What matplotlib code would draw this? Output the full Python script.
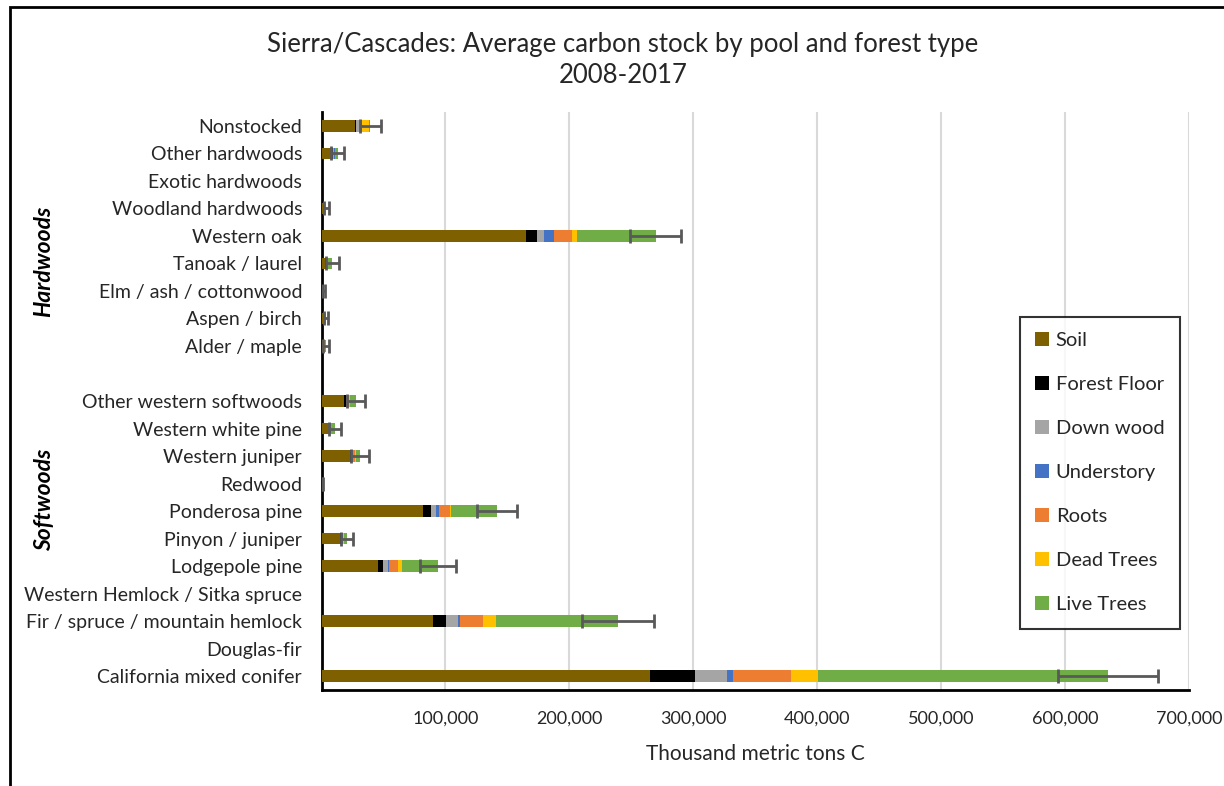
import numpy as np
import matplotlib
matplotlib.use("Agg")
import matplotlib.pyplot as plt
from matplotlib.patches import Rectangle, Patch

plt.rcParams['font.family'] = ['Lato', 'DejaVu Sans']

# categories top to bottom ('' is the gap between hardwoods and softwoods)
categories = ['Nonstocked', 'Other hardwoods', 'Exotic hardwoods', 'Woodland hardwoods',
              'Western oak', 'Tanoak / laurel', 'Elm / ash / cottonwood', 'Aspen / birch',
              'Alder / maple', '', 'Other western softwoods', 'Western white pine',
              'Western juniper', 'Redwood', 'Ponderosa pine', 'Pinyon / juniper',
              'Lodgepole pine', 'Western Hemlock / Sitka spruce',
              'Fir / spruce / mountain hemlock', 'Douglas-fir', 'California mixed conifer']

# thousand metric tons C
soil = [27400, 8600, 0, 2400, 164700, 2800, 600, 1000, 1000, 0, 18400, 6000, 23000, 300,
        81600, 14900, 45300, 0, 89600, 0, 264900]
forest_floor = [700, 800, 0, 200, 8800, 400, 200, 200, 200, 0, 1400, 600, 1300, 50,
                6700, 700, 4500, 0, 10800, 0, 36300]
down_wood = [4000, 500, 0, 100, 5700, 300, 100, 100, 100, 0, 500, 400, 500, 50,
             4000, 800, 3800, 0, 9400, 0, 25800]
understory = [300, 800, 0, 100, 8600, 300, 100, 200, 200, 0, 300, 300, 500, 20,
              2700, 800, 1100, 0, 1900, 0, 4900]
roots = [600, 600, 0, 300, 14000, 1500, 200, 400, 400, 0, 1500, 800, 1800, 100,
         8600, 500, 7200, 0, 18500, 0, 46700]
dead_trees = [5300, 300, 0, 100, 4200, 300, 50, 200, 700, 0, 800, 300, 700, 30,
              800, 200, 2800, 0, 10300, 0, 21800]
live_trees = [1200, 1400, 0, 500, 63500, 3000, 200, 1500, 1200, 0, 4700, 2500, 3200, 200,
              36900, 2400, 29500, 0, 98600, 0, 233900]
error = [8700, 5000, 0, 2000, 20600, 5400, 1000, 2000, 2500, 0, 7100, 4800, 7100, 500,
         16100, 4800, 14500, 0, 29000, 0, 40300]

pools = ['Soil', 'Forest Floor', 'Down wood', 'Understory', 'Roots', 'Dead Trees', 'Live Trees']
series = [soil, forest_floor, down_wood, understory, roots, dead_trees, live_trees]
colors = ['#7f6000', '#000000', '#a5a5a5', '#4472c4', '#ed7d31', '#ffc000', '#70ad47']

fig = plt.figure(figsize=(12.24, 7.86), dpi=100)
ax = fig.add_axes([0.2627, 0.1221, 0.7087, 0.7354])

y = np.arange(len(categories))
left = np.zeros(len(categories))
for name, vals, c in zip(pools, series, colors):
    vals = np.array(vals, dtype=float)
    ax.barh(y, vals, left=left, height=0.42, color=c, label=name, zorder=3)
    left += vals

# error bars at the end of each stacked bar
err = np.array(error, dtype=float)
mask = err > 0
ax.errorbar(left[mask], y[mask], xerr=err[mask], fmt='none', ecolor='#595959',
            elinewidth=2, capsize=5, capthick=2, zorder=4)

ax.set_ylim(len(categories) - 0.5, -0.5)
ax.set_yticks(y)
ax.set_yticklabels(categories, fontsize=14, color='#262626')
ax.tick_params(axis='y', length=0, pad=14)

ax.set_xlim(0, 700000)
ticks = np.arange(100000, 700001, 100000)
ax.set_xticks(ticks)
ax.set_xticklabels([f'{t:,}' for t in ticks], fontsize=13, color='#262626')
ax.tick_params(axis='x', length=0, pad=15)
ax.grid(axis='x', color='#d9d9d9', linewidth=1.5, zorder=0)
ax.set_axisbelow(True)

for s in ['top', 'right']:
    ax.spines[s].set_visible(False)
for s in ['left', 'bottom']:
    ax.spines[s].set_linewidth(2)
    ax.spines[s].set_color('black')

ax.set_xlabel('Thousand metric tons C', fontsize=15, color='#262626', labelpad=12)

fig.text(0.509, 0.943, 'Sierra/Cascades: Average carbon stock by pool and forest type',
         ha='center', va='center', fontsize=18.5, color='#262626')
fig.text(0.509, 0.904, '2008-2017', ha='center', va='center', fontsize=18.5, color='#262626')

fig.text(0.036, 0.667, 'Hardwoods', rotation=90, ha='center', va='center',
         fontsize=16.5, fontweight='bold', fontstyle='italic')
fig.text(0.036, 0.364, 'Softwoods', rotation=90, ha='center', va='center',
         fontsize=16.5, fontweight='bold', fontstyle='italic')

handles = [Patch(facecolor=c, label=n) for n, c in zip(pools, colors)]
leg = fig.legend(handles=handles, loc='upper left', bbox_to_anchor=(0.833, 0.597),
                 fontsize=14.5, frameon=True, fancybox=False, edgecolor='black',
                 handlelength=0.7, handleheight=0.7, handletextpad=0.35,
                 labelspacing=1.34, borderpad=0.75, borderaxespad=0)
leg.get_frame().set_linewidth(1.5)
for t in leg.get_texts():
    t.set_color('#262626')

# outer chart border
fig.patches.append(Rectangle((0.008, -0.05), 1.1, 1.041, transform=fig.transFigure,
                             fill=False, edgecolor='black', linewidth=2))

fig.savefig('out.png', dpi=100)
